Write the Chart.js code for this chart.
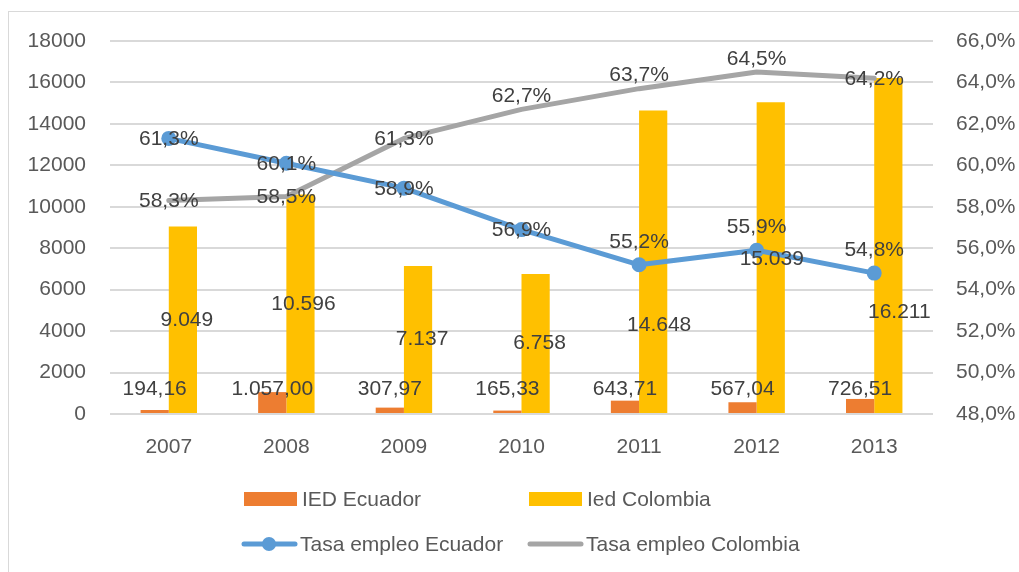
<!DOCTYPE html>
<html>
<head>
<meta charset="utf-8">
<script src="https://cdn.jsdelivr.net/npm/chart.js@4.4.1/dist/chart.umd.min.js"></script>
<style>
  html, body { margin: 0; padding: 0; background: #fff; overflow: hidden; }
  #wrap { position: relative; width: 1019px; height: 572px; }
  #frame { position: absolute; left: 8px; top: 11px; width: 1100px; height: 700px; border: 1px solid #d9d9d9; }
  canvas { position: absolute; left: 0; top: 0; }
</style>
</head>
<body>
<div id="wrap">
  <div id="frame"></div>
  <canvas id="chart" width="1019" height="572"></canvas>
</div>
<script>
const years = ["2007", "2008", "2009", "2010", "2011", "2012", "2013"];
const iedEcuador = [194.16, 1057.0, 307.97, 165.33, 643.71, 567.04, 726.51];
const iedColombia = [9049, 10596, 7137, 6758, 14648, 15039, 16211];
const tasaEcuador = [61.3, 60.1, 58.9, 56.9, 55.2, 55.9, 54.8];
const tasaColombia = [58.3, 58.5, 61.3, 62.7, 63.7, 64.5, 64.2];

const leftTicks = [0, 2000, 4000, 6000, 8000, 10000, 12000, 14000, 16000, 18000];
const rightTicks = [48, 50, 52, 54, 56, 58, 60, 62, 64, 66];

const FONT = "'Liberation Sans', Arial, sans-serif";
const TICK_COLOR = "#595959";
const LABEL_COLOR = "#404040";

// where the percent labels sit: on the point or above it
const posEcuador = ["c", "c", "c", "c", "t", "t", "t"];
const posColombia = ["c", "c", "c", "t", "t", "t", "c"];
// a couple of the colombia bar labels were dragged around by hand in the original
const colNudgeX = [4, 3, 4, 4, 6, 1, 11];
const colNudgeY = [0, 0, 0, 0, 63, 2, 67];

/* number formatting, es style */
function fmtNum(v, dec) {
  const parts = v.toFixed(dec).split(".");
  const intPart = parts[0].replace(/\B(?=(\d{3})+(?!\d))/g, ".");
  return dec > 0 ? intPart + "," + parts[1] : intPart;
}

/* DATA LABELS */
const labelPlugin = {
  id: "labels",
  afterDatasetsDraw(chart) {
    const ctx = chart.ctx;
    const y0 = chart.scales.y.getPixelForValue(0);
    ctx.save();
    ctx.font = "21px " + FONT;
    ctx.fillStyle = LABEL_COLOR;
    ctx.textAlign = "center";
    ctx.textBaseline = "middle";

    chart.getDatasetMeta(0).data.forEach((el, i) => {
      ctx.fillText(fmtNum(iedEcuador[i], 2), el.x, y0 - 25);
    });
    chart.getDatasetMeta(1).data.forEach((el, i) => {
      const mid = (el.y + el.base) / 2;
      ctx.fillText(fmtNum(iedColombia[i], 0), el.x + colNudgeX[i], mid + colNudgeY[i]);
    });
    chart.getDatasetMeta(2).data.forEach((el, i) => {
      const dy = posEcuador[i] === "t" ? -23 : 1;
      ctx.fillText(fmtNum(tasaEcuador[i], 1) + "%", el.x, el.y + dy);
    });
    chart.getDatasetMeta(3).data.forEach((el, i) => {
      const dy = posColombia[i] === "t" ? -13 : 1;
      ctx.fillText(fmtNum(tasaColombia[i], 1) + "%", el.x, el.y + dy);
    });
    ctx.restore();
  },
};

/* LEGEND (two rows like the excel one) */
const legendPlugin = {
  id: "customLegend",
  afterDraw(chart) {
    const ctx = chart.ctx;
    const ds = chart.data.datasets;
    const items = [
      { d: ds[0], x: 244, y: 499, kind: "box" },
      { d: ds[1], x: 529, y: 499, kind: "box" },
      { d: ds[2], x: 242, y: 544, kind: "line", marker: true },
      { d: ds[3], x: 528, y: 544, kind: "line", marker: false },
    ];
    ctx.save();
    ctx.font = "21px " + FONT;
    ctx.textBaseline = "middle";
    ctx.textAlign = "left";
    items.forEach((it) => {
      if (it.kind === "box") {
        ctx.fillStyle = it.d.backgroundColor;
        ctx.fillRect(it.x, it.y - 7, 53, 14);
      } else {
        ctx.strokeStyle = it.d.borderColor;
        ctx.lineWidth = 5;
        ctx.lineCap = "round";
        ctx.beginPath();
        ctx.moveTo(it.x + 2, it.y);
        ctx.lineTo(it.x + 53, it.y);
        ctx.stroke();
        if (it.marker) {
          ctx.fillStyle = it.d.borderColor;
          ctx.beginPath();
          ctx.arc(it.x + 27, it.y, 7, 0, Math.PI * 2);
          ctx.fill();
        }
      }
      ctx.fillStyle = TICK_COLOR;
      ctx.fillText(it.d.label, it.x + 58, it.y + 1);
    });
    ctx.restore();
  },
};

function initChart() {
  const ctx = document.getElementById("chart").getContext("2d");

  new Chart(ctx, {
    data: {
      labels: years,
      datasets: [
        {
          type: "bar",
          label: "IED Ecuador",
          data: iedEcuador,
          backgroundColor: "#ED7D31",
          yAxisID: "y",
          categoryPercentage: 0.48,
          barPercentage: 1,
          order: 2,
        },
        {
          type: "bar",
          label: "Ied Colombia",
          data: iedColombia,
          backgroundColor: "#FFC000",
          yAxisID: "y",
          categoryPercentage: 0.48,
          barPercentage: 1,
          order: 3,
        },
        {
          type: "line",
          label: "Tasa empleo Ecuador",
          data: tasaEcuador,
          borderColor: "#5B9BD5",
          backgroundColor: "#5B9BD5",
          borderWidth: 5,
          pointRadius: 7.5,
          pointHoverRadius: 7.5,
          pointBorderWidth: 0,
          borderCapStyle: "round",
          borderJoinStyle: "round",
          yAxisID: "y1",
          order: 0,
        },
        {
          type: "line",
          label: "Tasa empleo Colombia",
          data: tasaColombia,
          borderColor: "#A5A5A5",
          backgroundColor: "#A5A5A5",
          borderWidth: 5,
          pointRadius: 0,
          borderCapStyle: "round",
          borderJoinStyle: "round",
          yAxisID: "y1",
          order: 1,
        },
      ],
    },
    options: {
      responsive: false,
      animation: false,
      events: [],
      layout: { padding: { top: 41, left: 0, right: 0, bottom: 0 } },
      plugins: {
        legend: { display: false },
        tooltip: { enabled: false },
      },
      scales: {
        x: {
          grid: { display: false, drawTicks: false },
          border: { display: false },
          ticks: { color: TICK_COLOR, font: { family: FONT, size: 21 }, padding: 21 },
          afterFit(s) { s.height = 572 - 414; },
        },
        y: {
          position: "left",
          min: 0,
          max: 18000,
          afterBuildTicks(s) { s.ticks = leftTicks.map((v) => ({ value: v })); },
          grid: { color: "#D9D9D9", lineWidth: 2, drawTicks: false },
          border: { display: false },
          ticks: {
            color: TICK_COLOR,
            font: { family: FONT, size: 21 },
            padding: 24,
            callback: (v) => String(v),
          },
          afterFit(s) { s.width = 110; },
        },
        y1: {
          position: "right",
          min: 48,
          max: 66,
          afterBuildTicks(s) { s.ticks = rightTicks.map((v) => ({ value: v })); },
          grid: { display: false, drawTicks: false },
          border: { display: false },
          ticks: {
            color: TICK_COLOR,
            font: { family: FONT, size: 21 },
            padding: 23,
            callback: (v) => fmtNum(v, 1) + "%",
          },
          afterFit(s) { s.width = 1019 - 933; },
        },
      },
    },
    plugins: [labelPlugin, legendPlugin],
  });
}

window.onload = initChart;
</script>
</body>
</html>
